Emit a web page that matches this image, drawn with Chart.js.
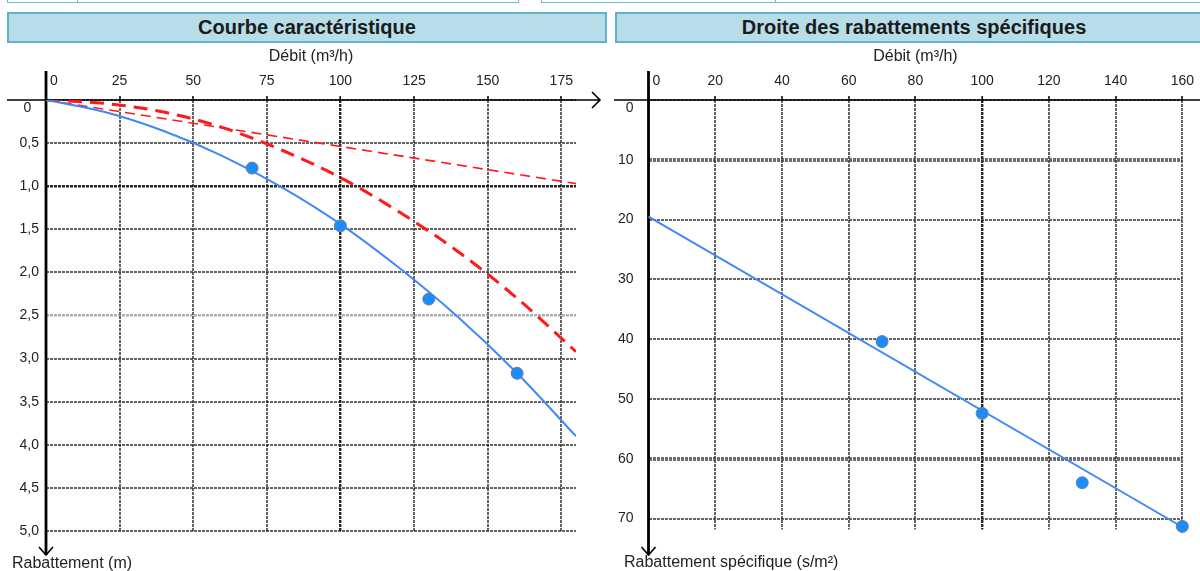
<!DOCTYPE html>
<html lang="fr">
<head>
<meta charset="utf-8">
<title>Courbe caractéristique</title>
<script src="https://cdn.jsdelivr.net/npm/chart.js@4.4.1/dist/chart.umd.min.js"></script>
<style>
  body { margin:0; width:1200px; height:571px; overflow:hidden; background:#fff; position:relative;
         font-family: Arial, "Liberation Sans", sans-serif; }
  .cellule { position:absolute; top:-20px; height:23px; border:1.5px solid #6db8cf; box-sizing:border-box; background:#fff; }
  .bandeau { position:absolute; top:12px; height:31px; box-sizing:border-box; border:2px solid #62b2cb;
             background:#b7dde8; text-align:center; font-weight:bold; font-size:20px; line-height:27px; color:#1b1b1b; white-space:nowrap; }
  .zone { position:absolute; top:0; }
  .legendeY { position:absolute; font-size:16px; color:#222; white-space:nowrap; }
</style>
</head>
<body>
<div class="cellule" style="left:7px;width:72px"></div>
<div class="cellule" style="left:77px;width:442px"></div>
<div class="cellule" style="left:541px;width:236px"></div>
<div class="cellule" style="left:775px;width:440px"></div>

<div class="bandeau" style="left:7px;width:600px">Courbe caractéristique</div>
<div class="bandeau" style="left:615px;width:598px">Droite des rabattements spécifiques</div>

<canvas id="courbe" class="zone" style="left:0" width="610" height="571"></canvas>
<canvas id="droite" class="zone" style="left:610px" width="590" height="571"></canvas>

<div class="legendeY" style="left:12px;top:554px">Rabattement (m)</div>
<div class="legendeY" style="left:624px;top:553px">Rabattement spécifique (s/m²)</div>

<script>
// mesures des paliers
var debitsMesures = [70, 100, 130, 160];
var rabattementsMesures = [0.79, 1.46, 2.31, 3.17];
var rabSpecifiquesMesures = [40.4, 52.4, 64.0, 71.3];

// courbes
var debitsCourbe = [0, 20, 40, 60, 80, 100, 120, 140, 160, 180];
var rabattementTotal = [0, 0.14, 0.36, 0.65, 1.01, 1.44, 1.95, 2.52, 3.17, 3.90];
var pertesQuadratiques = [0, 0.04, 0.14, 0.32, 0.58, 0.90, 1.30, 1.76, 2.30, 2.92];
var debitsLineaires = [0, 180];
var pertesLineaires = [0, 0.97];

// droite des rabattements spécifiques
var debitsDroite = [0, 160];
var droiteSpecifique = [19.5, 71.4];

// graduations
var valeursDebitG = [0, 25, 50, 75, 100, 125, 150, 175];
var etiquettesDebitG = ['0', '25', '50', '75', '100', '125', '150', '175'];
var valeursRabG = [0, 0.5, 1, 1.5, 2, 2.5, 3, 3.5, 4, 4.5, 5];
var etiquettesRabG = ['0', '0,5', '1,0', '1,5', '2,0', '2,5', '3,0', '3,5', '4,0', '4,5', '5,0'];
var valeursDebitD = [0, 20, 40, 60, 80, 100, 120, 140, 160];
var etiquettesDebitD = ['0', '20', '40', '60', '80', '100', '120', '140', '160'];
var valeursRabD = [0, 10, 20, 30, 40, 50, 60, 70];
var etiquettesRabD = ['0', '10', '20', '30', '40', '50', '60', '70'];

function points(xs, ys) {
    return xs.map(function (x, i) { return { x: x, y: ys[i] }; });
}

// axes noirs avec flèches, dessinés par-dessus la grille
var axesFleches = {
    id: 'axesFleches',
    beforeDatasetsDraw: function (chart, args, opts) {
        var ctx = chart.ctx;
        var x0 = chart.scales.x.getPixelForValue(0);
        var y0 = chart.scales.y.getPixelForValue(0);
        ctx.save();
        ctx.strokeStyle = '#000';
        ctx.setLineDash([]);
        ctx.lineWidth = 1.6;
        ctx.beginPath();
        ctx.moveTo(opts.xDebut, y0);
        ctx.lineTo(opts.xFin, y0);
        if (opts.flecheX) {
            ctx.moveTo(opts.xFin - 8, y0 - 8);
            ctx.lineTo(opts.xFin, y0);
            ctx.lineTo(opts.xFin - 8, y0 + 8);
        }
        ctx.stroke();
        ctx.lineWidth = 2.8;
        ctx.beginPath();
        ctx.moveTo(x0, opts.yHaut);
        ctx.lineTo(x0, opts.yBas);
        ctx.stroke();
        ctx.lineWidth = 1.6;
        ctx.beginPath();
        ctx.moveTo(x0 - 7, opts.yBas - 8);
        ctx.lineTo(x0, opts.yBas);
        ctx.lineTo(x0 + 7, opts.yBas - 8);
        ctx.stroke();
        ctx.restore();
    }
};

function valeurTick(c) { return c.tick ? c.tick.value : null; }

function grille(fortes, epaisses, claires) {
    return {
        color: function (c) {
            var v = valeurTick(c);
            if (fortes.indexOf(v) >= 0) return 'rgba(15,15,15,0.9)';
            if (epaisses.indexOf(v) >= 0) return 'rgba(60,60,60,0.75)';
            if (claires.indexOf(v) >= 0) return 'rgba(110,110,110,0.55)';
            return 'rgba(40,40,40,0.72)';
        },
        lineWidth: function (c) {
            var v = valeurTick(c);
            if (fortes.indexOf(v) >= 0) return 2.4;
            if (epaisses.indexOf(v) >= 0) return 4;
            if (claires.indexOf(v) >= 0) return 2.6;
            return 2;
        },
        drawTicks: true,
        tickLength: 4,
        tickColor: '#000',
        tickWidth: 1.5,
        tickBorderDash: []
    };
}

function echelleX(valeurs, etiquettes, max, fortes) {
    return {
        type: 'linear', position: 'top', min: 0, max: max,
        border: { display: false, dash: [3, 1] },
        grid: grille(fortes, [], []),
        afterBuildTicks: function (s) { s.ticks = valeurs.map(function (v) { return { value: v }; }); },
        afterFit: function (s) { s.height = 100; },
        ticks: {
            padding: 6, color: '#222', font: { size: 14, family: 'Arial' },
            maxRotation: 0, autoSkip: false,
            callback: function (v, i) { return i === 0 ? '    ' + etiquettes[i] : etiquettes[i]; }
        },
        title: { display: true, text: 'Débit (m³/h)', color: '#222', font: { size: 16, family: 'Arial' }, padding: { top: 47 } }
    };
}

function echelleY(valeurs, etiquettes, max, largeur, ecart, fortes, epaisses, claires, decalageZero) {
    var g = grille(fortes, epaisses, claires);
    g.drawTicks = false;
    return {
        type: 'linear', reverse: true, min: 0, max: max,
        border: { display: false, dash: [3, 1] },
        grid: g,
        afterBuildTicks: function (s) { s.ticks = valeurs.map(function (v) { return { value: v }; }); },
        afterFit: function (s) { s.width = largeur; },
        ticks: {
            padding: ecart, color: '#222', font: { size: 14, family: 'Arial' }, autoSkip: false,
            // le zéro est posé sous l'axe horizontal
            callback: function (v, i) { return i === 0 ? ['', etiquettes[i] + decalageZero] : etiquettes[i]; }
        }
    };
}

var styleMesures = {
    showLine: false, pointRadius: 6, pointHoverRadius: 6, clip: false,
    pointBackgroundColor: '#1a8cff', pointBorderColor: '#6f7f90', pointBorderWidth: 1
};

document.addEventListener('DOMContentLoaded', function () {
    Chart.defaults.font.family = 'Arial, "Liberation Sans", sans-serif';

    new Chart(document.getElementById('courbe').getContext('2d'), {
        type: 'scatter',
        data: {
            datasets: [
                Object.assign({ data: points(debitsMesures, rabattementsMesures) }, styleMesures),
                {
                    data: points(debitsCourbe, rabattementTotal), showLine: true, pointRadius: 0,
                    borderColor: '#3f88f6', borderWidth: 2, cubicInterpolationMode: 'monotone'
                },
                {
                    data: points(debitsCourbe, pertesQuadratiques), showLine: true, pointRadius: 0,
                    borderColor: '#ff1a1a', borderWidth: 3, borderDash: [14, 8], cubicInterpolationMode: 'monotone'
                },
                {
                    data: points(debitsLineaires, pertesLineaires), showLine: true, pointRadius: 0,
                    borderColor: '#ff1a1a', borderWidth: 1.6, borderDash: [10, 6]
                }
            ]
        },
        options: {
            responsive: false, animation: false, events: [],
            layout: { padding: { left: 0, top: 0, right: 34, bottom: 40 } },
            scales: {
                x: echelleX(valeursDebitG, etiquettesDebitG, 180, [100]),
                y: echelleY(valeursRabG, etiquettesRabG, 5, 46, 7, [1], [], [2.5], '  ')
            },
            plugins: {
                legend: { display: false }, tooltip: { enabled: false },
                axesFleches: { xDebut: 7, xFin: 600, flecheX: true, yHaut: 71, yBas: 555 }
            }
        },
        plugins: [axesFleches]
    });

    new Chart(document.getElementById('droite').getContext('2d'), {
        type: 'scatter',
        data: {
            datasets: [
                Object.assign({ data: points(debitsMesures, rabSpecifiquesMesures) }, styleMesures),
                {
                    data: points(debitsDroite, droiteSpecifique), showLine: true, pointRadius: 0,
                    borderColor: '#3f88f6', borderWidth: 2, clip: false
                }
            ]
        },
        options: {
            responsive: false, animation: false, events: [],
            layout: { padding: { left: 0, top: 0, right: 15, bottom: 41.6 } },
            scales: {
                x: echelleX(valeursDebitD, etiquettesDebitD, 160, [100]),
                y: echelleY(valeursRabD, etiquettesRabD, 71.8, 38.5, 15, [], [10, 60], [], '')
            },
            plugins: {
                legend: { display: false }, tooltip: { enabled: false },
                axesFleches: { xDebut: 4, xFin: 590, flecheX: false, yHaut: 71, yBas: 555 }
            }
        },
        plugins: [axesFleches]
    });
});
</script>
</body>
</html>
